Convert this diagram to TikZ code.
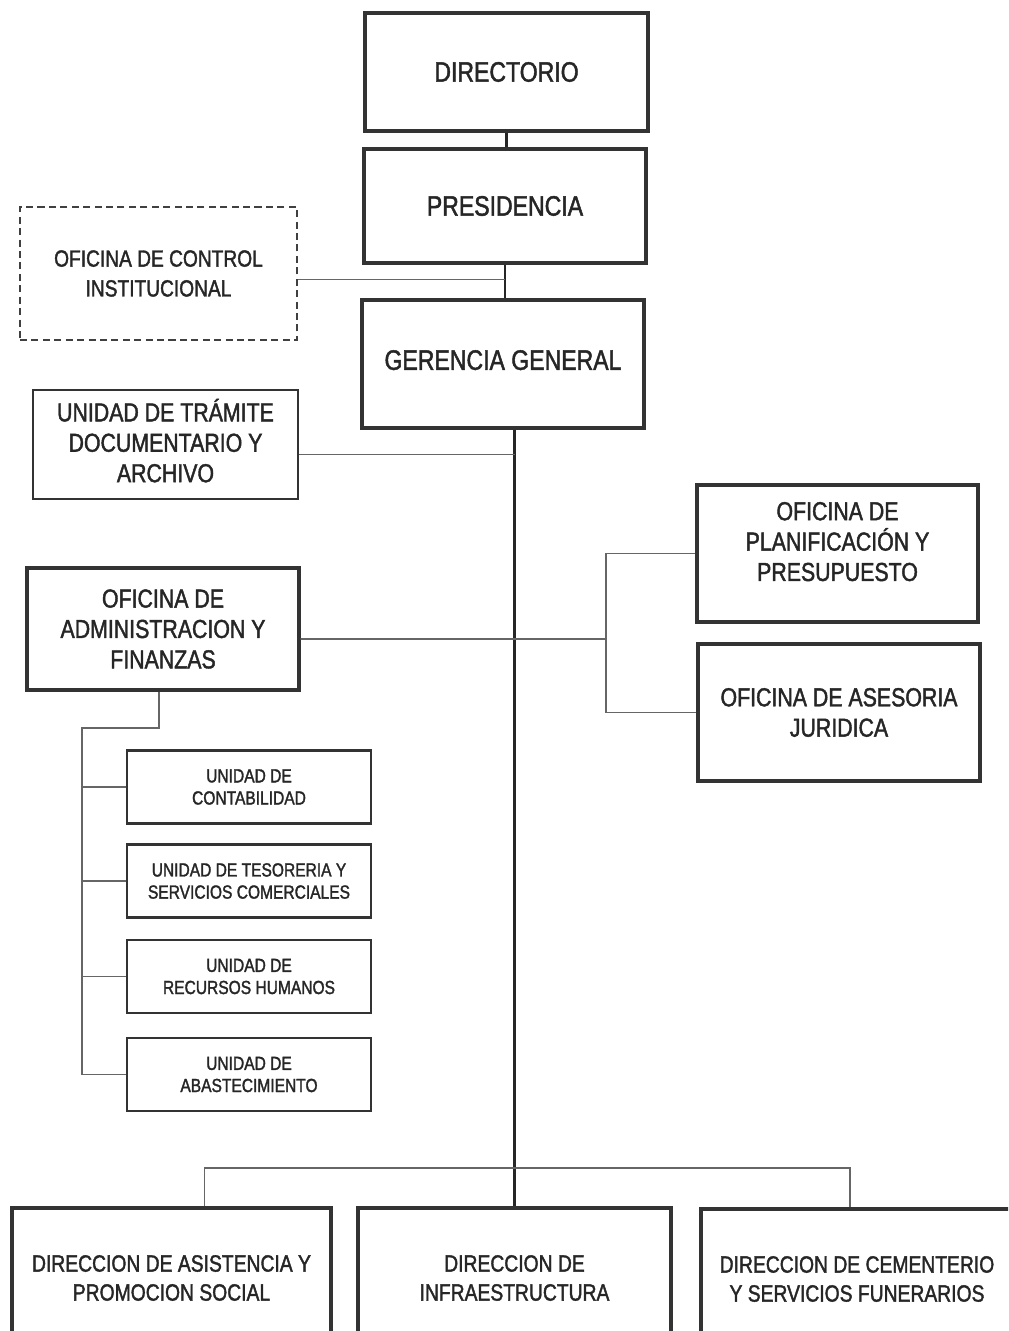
\documentclass[tikz,border=0pt]{standalone}
\usepackage{fontspec}
\setmainfont{Liberation Sans}[FakeStretch=0.82,FakeBold=1.6]
\begin{document}
\begin{tikzpicture}
[x=0.02cm,y=-0.02cm,%
  mainbox/.style={shape=rectangle,draw=black!80,line width=1.9pt,align=center,text=black!85,font=\fontsize{16}{18}\selectfont},%
  midbox/.style={mainbox,font=\fontsize{14.8}{17.3}\selectfont},%
  basebox/.style={mainbox,font=\fontsize{13.4}{16.5}\selectfont},%
  subbox/.style={mainbox,line width=1.3pt,minimum width=4.88cm,minimum height=1.46cm,font=\fontsize{10.8}{12.6}\selectfont},%
  dashbox/.style={mainbox,draw=black!75,line width=0.9pt,dash pattern=on 4pt off 2.5pt,font=\fontsize{13.3}{17}\selectfont},%
  linkline/.style={-,draw=black!60,line width=0.9pt},%
  trunkline/.style={-,draw=black!85,line width=1.2pt}]
\useasboundingbox (0,0) rectangle (1008,1331);
\clip (0,0) rectangle (1008,1331);
%% boxes of the upper part
\node (dir) at (506.5,72) [mainbox,minimum width=5.66cm,minimum height=2.36cm] {DIRECTORIO};
\node (pres) at (505,206) [mainbox,minimum width=5.64cm,minimum height=2.28cm] {PRESIDENCIA};
\node (ger) at (503,364) [mainbox,text depth=0.16cm,minimum width=5.64cm,minimum height=2.56cm] {GERENCIA GENERAL};
\node (ctrl) at (158.5,273.5) [dashbox,minimum width=5.54cm,minimum height=2.66cm] {OFICINA DE CONTROL\\INSTITUCIONAL};
\node (tram) at (165.5,444.5) [midbox,line width=1.1pt,text depth=0.16cm,minimum width=5.3cm,minimum height=2.18cm] {UNIDAD DE TRÁMITE\\DOCUMENTARIO Y\\ARCHIVO};
\node (adm) at (163,629) [midbox,minimum width=5.44cm,minimum height=2.44cm] {OFICINA DE\\ADMINISTRACION Y\\FINANZAS};
\node (plan) at (837.5,553.5) [midbox,text depth=0.48cm,minimum width=5.62cm,minimum height=2.74cm] {OFICINA DE\\PLANIFICACIÓN Y\\PRESUPUESTO};
\node (ase) at (839,712.5) [midbox,minimum width=5.64cm,minimum height=2.74cm] {OFICINA DE ASESORIA\\JURIDICA};
%% units under administracion
\foreach \nodename/\y/\label in {u1/787/{UNIDAD DE\\CONTABILIDAD},
  u2/881/{UNIDAD DE TESORERIA Y\\SERVICIOS COMERCIALES},
  u3/976.5/{UNIDAD DE\\RECURSOS HUMANOS},
  u4/1074.5/{UNIDAD DE\\ABASTECIMIENTO}} {
  \node (\nodename) at (249,\y) [subbox] {\label};
}
%% direcciones at the bottom
\node (dasi) at (171.5,1278) [basebox,minimum width=6.38cm,minimum height=2.8cm] {DIRECCION DE ASISTENCIA Y\\PROMOCION SOCIAL};
\node (dinf) at (514.5,1278) [basebox,minimum width=6.26cm,minimum height=2.8cm] {DIRECCION DE\\INFRAESTRUCTURA};
\node (dcem) at (857,1279) [basebox,minimum width=6.24cm,minimum height=2.8cm] {DIRECCION DE CEMENTERIO\\Y SERVICIOS FUNERARIOS};
\coordinate (bar) at (515,1168);
\coordinate (brk) at (606,639);
\coordinate (subbus) at (82,728);
%% lines
\draw[trunkline] (dir.south) -- (dir.south |- pres.north);
\draw[trunkline] (pres.south) -- (pres.south |- ger.north);
\draw[linkline] ([yshift=-0.12cm]ctrl.east) -- ([yshift=-0.12cm]ctrl.east -| pres.south);
\draw[trunkline] (ger.south -| dinf.north) -- (dinf.north);
\draw[linkline] ([yshift=-0.2cm]tram.east) -- ([yshift=-0.2cm]tram.east -| dinf.north);
\draw[linkline] ([yshift=-0.2cm]adm.east) -- (brk);
\draw[linkline] (plan.west) -| (brk |- ase.west) -- (ase.west);
\draw[linkline] ([xshift=-0.08cm]adm.south) |- (subbus) -- (subbus |- u4.west);
\foreach \nodename in {u1,u2,u3,u4} {
  \draw[linkline] (subbus |- \nodename.west) -- (\nodename.west);
}
\draw[linkline] ([xshift=0.66cm]dasi.north) |- (bar) -| ([xshift=-0.14cm]dcem.north);
\end{tikzpicture}
\end{document}
